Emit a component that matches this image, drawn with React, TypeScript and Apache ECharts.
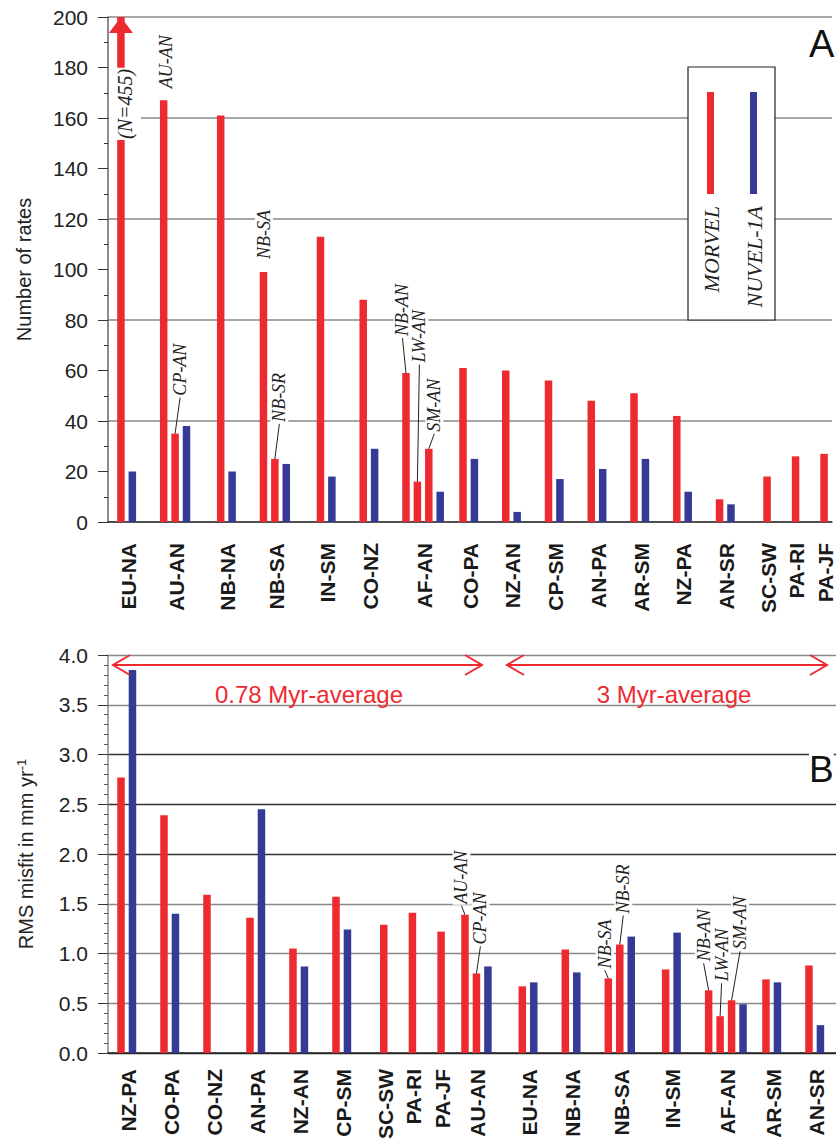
import React, { useEffect, useRef } from 'react';
import * as echarts from 'echarts';

const SANS = '"Liberation Sans", Arial, Helvetica, sans-serif';
const SERIF = '"Liberation Serif", "Times New Roman", serif';
const RED = '#ee2a31';
const BLUE = '#343a95';

// ---------- Panel A : number of rates ----------
const topPairs = ['EU-NA', 'AU-AN', 'NB-NA', 'NB-SA', 'IN-SM', 'CO-NZ', 'AF-AN', 'CO-PA', 'NZ-AN', 'CP-SM', 'AN-PA', 'AR-SM', 'NZ-PA', 'AN-SR', 'SC-SW', 'PA-RI', 'PA-JF'];
const topSlots = [1, 4, 8, 11, 15, 18, 21, 25, 28, 31, 34, 37, 40, 43, 46.333, 48.333, 50.333];
const topMorvel = [[455], [167, 35], [161], [99, 25], [113], [88], [59, 16, 29], [61], [60], [56], [48], [51], [42], [9], [18], [26], [27]];
const topMorvelNames = [[''], ['AU-AN', 'CP-AN'], [''], ['NB-SA', 'NB-SR'], [''], [''], ['NB-AN', 'LW-AN', 'SM-AN'], [''], [''], [''], [''], [''], [''], [''], [''], [''], ['']];
const topNuvel: any[] = [20, 38, 20, 23, 18, 29, 12, 25, 4, 17, 21, 25, 12, 7, null, null, null];
const topYMax = 200;
const topCapNote = '(N=455)';

// ---------- Panel B : RMS misfit ----------
const botPairs = ['NZ-PA', 'CO-PA', 'CO-NZ', 'AN-PA', 'NZ-AN', 'CP-SM', 'SC-SW', 'PA-RI', 'PA-JF', 'AU-AN', 'EU-NA', 'NB-NA', 'NB-SA', 'IN-SM', 'AF-AN', 'AR-SM', 'AN-SR'];
const botSlots = [1, 4, 7, 10, 13, 16, 19.333, 21.333, 23.333, 25, 29, 32, 35, 39, 42, 46, 49];
const botMorvel = [[2.77], [2.39], [1.59], [1.36], [1.05], [1.57], [1.29], [1.41], [1.22], [1.39, 0.80], [0.67], [1.04], [0.75, 1.09], [0.84], [0.63, 0.37, 0.53], [0.74], [0.88]];
const botMorvelNames = [[''], [''], [''], [''], [''], [''], [''], [''], [''], ['AU-AN', 'CP-AN'], [''], [''], ['NB-SA', 'NB-SR'], [''], ['NB-AN', 'LW-AN', 'SM-AN'], [''], ['']];
const botNuvel: any[] = [3.85, 1.40, '-', 2.45, 0.87, 1.24, null, null, null, 0.87, 0.71, 0.81, 1.17, 1.21, 0.49, 0.71, 0.28];
const periodNames = ['0.78 Myr-average', '3 Myr-average'];

const seriesNames = ['MORVEL', 'NUVEL-1A'];

// ---------- layout / style constants ----------
const SUB = 0.8; // spacing between adjacent bars of one plate pair, in slot units
const X_MIN = 0.093;
const X_MAX = 50.886;

const topAnn: Record<string, [number, number, boolean]> = {
  'AU-AN': [2, -11, false], 'CP-AN': [5, -37, true], 'NB-SA': [0.5, -12, false], 'NB-SR': [4.5, -36, true],
  'NB-AN': [-3.5, -36, true], 'LW-AN': [2, -118, true], 'SM-AN': [5.5, -16, true],
};
const botAnn: Record<string, [number, number, boolean]> = {
  'AU-AN': [-3.5, -10, true], 'CP-AN': [4, -28, true], 'NB-SA': [-3.5, -9, true], 'NB-SR': [3.5, -30, true],
  'NB-AN': [-5, -28, true], 'LW-AN': [1.5, -34, true], 'SM-AN': [8.5, -50, true],
};

function build(slots: number[], morvel: number[][], nuvel: any[]) {
  const red: any[] = [];
  const blue: any[] = [];
  const labelPos: number[] = [];
  slots.forEach((s, g) => {
    morvel[g].forEach((v, i) => red.push([s + i * SUB, v]));
    const n = morvel[g].length;
    let last = s + (n - 1) * SUB;
    const nb = nuvel[g];
    if (nb !== null && nb !== undefined) {
      last = s + n * SUB;
      if (nb !== '-') blue.push([last, nb]);
    }
    labelPos.push(+((s + last) / 2 + 0.1).toFixed(3));
  });
  return { red, blue, labelPos };
}

export default function App() {
  const ref = useRef<HTMLDivElement>(null);
  useEffect(() => {
    const chart = echarts.init(ref.current!, null, { renderer: 'svg' });
    const A = build(topSlots, topMorvel, topNuvel);
    const B = build(botSlots, botMorvel, botNuvel);
    const mapA = new Map<string, string>();
    A.labelPos.forEach((p, i) => mapA.set(p.toFixed(3), topPairs[i]));
    const mapB = new Map<string, string>();
    B.labelPos.forEach((p, i) => mapB.set(p.toFixed(3), botPairs[i]));

    const xLabel = (pos: number[], map: Map<string, string>, names: string[], margin: number) => ({
      customValues: pos,
      formatter: (v: any, i: number) => map.get(Number(v).toFixed(3)) ?? names[i] ?? '',
      rotate: 90,
      margin,
      fontSize: 21,
      fontWeight: 'bold',
      fontFamily: SANS,
      color: '#1a1a1a',
      showMinLabel: true,
      showMaxLabel: true,
    });

    const yLabel = (fmt?: any) => ({ fontSize: 21, margin: 20, color: '#222', fontFamily: SANS, formatter: fmt });

    const option: any = {
      animation: false,
      backgroundColor: '#fff',
      grid: [
        { left: 108, top: 17, width: 728, height: 505 },
        { left: 108, top: 655, width: 728, height: 399 },
      ],
      xAxis: [
        {
          gridIndex: 0, type: 'value', min: X_MIN, max: X_MAX,
          axisLine: { show: true, onZero: false, lineStyle: { color: '#333', width: 1.5 } },
          axisTick: { show: false }, splitLine: { show: false },
          axisLabel: xLabel(A.labelPos, mapA, topPairs, 21),
        },
        {
          gridIndex: 1, type: 'value', min: X_MIN, max: X_MAX,
          axisLine: { show: true, onZero: false, lineStyle: { color: '#222', width: 1.5 } },
          axisTick: { show: false }, splitLine: { show: false },
          axisLabel: xLabel(B.labelPos, mapB, botPairs, 16),
        },
      ],
      yAxis: [
        {
          gridIndex: 0, type: 'value', min: 0, max: topYMax, interval: 20,
          name: 'Number of rates', nameLocation: 'middle', nameGap: 74,
          nameTextStyle: { fontSize: 20, color: '#222', fontFamily: SANS },
          axisLine: { show: true, lineStyle: { color: '#666', width: 1.5 } },
          axisTick: { show: true, length: 10, lineStyle: { color: '#333' } },
          minorTick: { show: true, splitNumber: 2, length: 4, lineStyle: { color: '#333' } },
          splitLine: { show: true, lineStyle: { color: ['#888', 'rgba(0,0,0,0)'], width: 1.5 } },
          axisLabel: yLabel(),
        },
        {
          gridIndex: 1, type: 'value', min: 0, max: 4, interval: 0.5,
          name: 'RMS misfit in mm yr{sup|-1}', nameLocation: 'middle', nameGap: 71,
          nameTextStyle: {
            fontSize: 20, color: '#222', fontFamily: SANS,
            rich: { sup: { fontSize: 13, color: '#222', fontFamily: SANS, verticalAlign: 'top', lineHeight: 22 } },
          },
          axisLine: { show: true, lineStyle: { color: '#888', width: 1.5 } },
          axisTick: { show: true, length: 10, lineStyle: { color: '#333' } },
          minorTick: { show: true, splitNumber: 5, length: 4, lineStyle: { color: '#555' } },
          splitLine: { show: true, lineStyle: { color: ['#333', '#888', '#888', '#888', '#333', '#333', '#333', '#888', '#888'], width: 1.3 } },
          axisLabel: yLabel((v: number) => v.toFixed(1)),
        },
      ],
      series: [
        {
          name: seriesNames[0], type: 'bar', xAxisIndex: 0, yAxisIndex: 0, data: A.red,
          barWidth: 7.5, barGap: '-100%', itemStyle: { color: RED },
          markPoint: {
            silent: true, animation: false,
            data: [{ coord: [topSlots[0], topYMax], symbol: 'triangle', symbolSize: [24, 16], symbolOffset: [0, 8], itemStyle: { color: RED }, label: { show: false } }],
          },
        },
        { name: seriesNames[1], type: 'bar', xAxisIndex: 0, yAxisIndex: 0, data: A.blue, barWidth: 7.5, barGap: '-100%', itemStyle: { color: BLUE } },
        { name: seriesNames[0], type: 'bar', xAxisIndex: 1, yAxisIndex: 1, data: B.red, barWidth: 7.5, barGap: '-100%', itemStyle: { color: RED } },
        { name: seriesNames[1], type: 'bar', xAxisIndex: 1, yAxisIndex: 1, data: B.blue, barWidth: 7.5, barGap: '-100%', itemStyle: { color: BLUE } },
      ],
    };
    chart.setOption(option);

    const g: any[] = [];
    const annotate = (gridIndex: number, slots: number[], morvel: number[][], names: string[][], offs: Record<string, [number, number, boolean]>) => {
      slots.forEach((s, gi) => names[gi].forEach((nm, i) => {
        if (!nm) return;
        const [bx, by] = chart.convertToPixel({ gridIndex } as any, [s + i * SUB, morvel[gi][i]]) as number[];
        const [dx, dy, lead] = offs[nm];
        if (lead) g.push({ type: 'line', z: 101, shape: { x1: bx, y1: by, x2: bx + dx, y2: by + dy + 1 }, style: { stroke: '#222', lineWidth: 1 } });
        g.push({
          type: 'text', z: 102, x: bx + dx, y: by + dy, rotation: Math.PI / 2,
          style: { text: nm, fontFamily: SERIF, fontStyle: 'italic', fontSize: 18, fill: '#222', align: 'left', verticalAlign: 'middle', backgroundColor: '#fff', padding: [0, 1] },
        });
      }));
    };
    annotate(0, topSlots, topMorvel, topMorvelNames, topAnn);
    annotate(1, botSlots, botMorvel, botMorvelNames, botAnn);

    // (N=455) note on the capped bar
    const [capX] = chart.convertToPixel({ gridIndex: 0 } as any, [topSlots[0], 0]) as number[];
    g.push({
      type: 'text', z: 102, x: capX + 4, y: 140, rotation: Math.PI / 2,
      style: { text: topCapNote, fontFamily: SERIF, fontStyle: 'italic', fontSize: 20, fill: '#222', align: 'left', verticalAlign: 'middle', backgroundColor: '#fff', padding: [6, 1] },
    });

    // legend box
    g.push({ type: 'rect', z: 100, shape: { x: 688, y: 67, width: 87, height: 253 }, style: { fill: '#fff', stroke: '#222', lineWidth: 1.2 } });
    g.push({ type: 'rect', z: 101, shape: { x: 707, y: 92, width: 7, height: 102 }, style: { fill: RED } });
    g.push({ type: 'rect', z: 101, shape: { x: 750, y: 92, width: 7, height: 102 }, style: { fill: BLUE } });
    [[711, seriesNames[0]], [754, seriesNames[1]]].forEach(([x, t]) => g.push({
      type: 'text', z: 101, x, y: 206, rotation: Math.PI / 2,
      style: { text: t, fontFamily: SERIF, fontStyle: 'italic', fontSize: 22, fill: '#222', align: 'right', verticalAlign: 'middle' },
    }));

    // panel letters
    g.push({ type: 'text', z: 101, x: 809, y: 25, style: { text: 'A', fontFamily: SANS, fontSize: 38, fill: '#111', backgroundColor: '#fff', align: 'left', verticalAlign: 'top' } });
    g.push({ type: 'text', z: 101, x: 809, y: 751, style: { text: 'B', fontFamily: SANS, fontSize: 37, fill: '#111', backgroundColor: '#fff', align: 'left', verticalAlign: 'top' } });

    // averaging-period arrows
    const arrowY = 665;
    const spans = [[113, 482], [507, 827]];
    spans.forEach(([x1, x2], k) => {
      g.push({ type: 'line', z: 101, shape: { x1, y1: arrowY, x2, y2: arrowY }, style: { stroke: RED, lineWidth: 2 } });
      g.push({ type: 'polyline', z: 101, shape: { points: [[x1 + 17, arrowY - 10], [x1, arrowY], [x1 + 17, arrowY + 10]] }, style: { stroke: RED, lineWidth: 2, fill: 'none' } });
      g.push({ type: 'polyline', z: 101, shape: { points: [[x2 - 17, arrowY - 10], [x2, arrowY], [x2 - 17, arrowY + 10]] }, style: { stroke: RED, lineWidth: 2, fill: 'none' } });
      g.push({
        type: 'text', z: 101, x: k === 0 ? 309 : 674, y: 694,
        style: { text: periodNames[k], fontFamily: SANS, fontSize: 24, fill: RED, align: 'center', verticalAlign: 'middle' },
      });
    });

    chart.setOption({ graphic: g });
    return () => chart.dispose();
  }, []);
  return <div ref={ref} style={{ position: 'absolute', left: 0, top: 0, width: 836, height: 1142, background: '#fff' }} />;
}
